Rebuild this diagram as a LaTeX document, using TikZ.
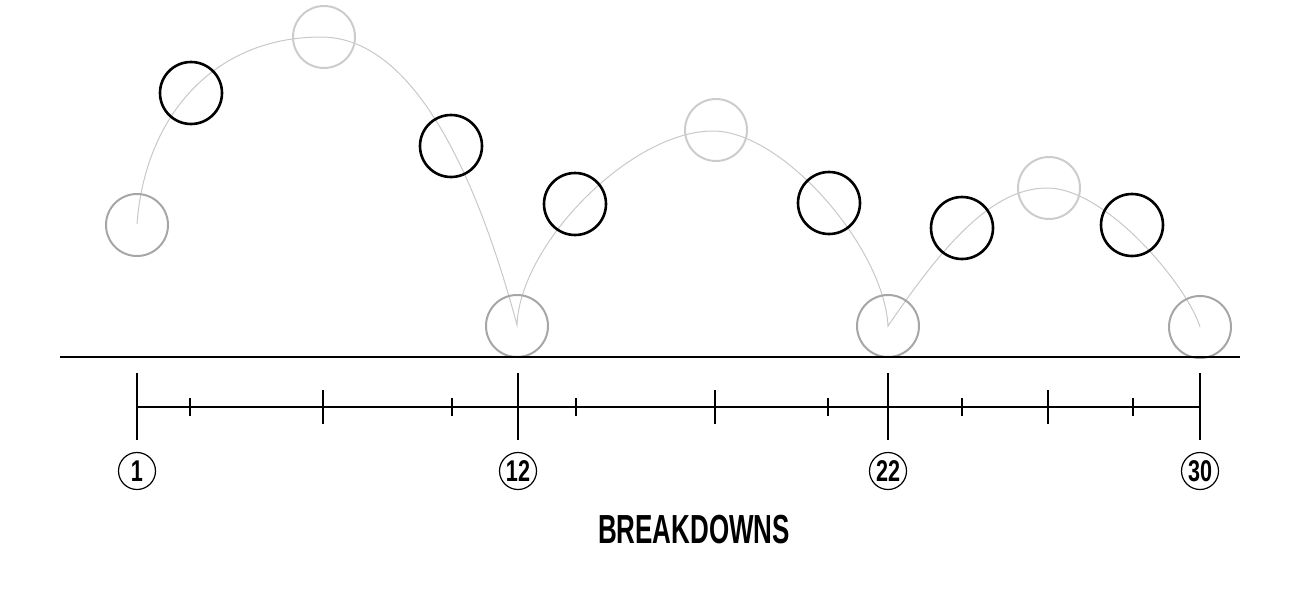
\documentclass[tikz,border=0pt]{standalone}
\usepackage{fontspec}
\setmainfont{Liberation Sans}
\definecolor{ltc}{HTML}{CCCCCC}
\definecolor{mdc}{HTML}{A6A6A6}
\definecolor{crv}{HTML}{C8C8C8}
\begin{document}
\begin{tikzpicture}[x=0.5pt,y=-0.5pt,
  keyc/.style={circle,draw=black,line width=1.3pt,minimum size=31pt,inner sep=0pt},
  topc/.style={circle,draw=ltc,line width=1pt,minimum size=31pt,inner sep=0pt},
  endc/.style={circle,draw=mdc,line width=1pt,minimum size=31pt,inner sep=0pt},
  arcpath/.style={draw=crv,line width=0.5pt},
  ground/.style={draw=black,line width=1.3pt},
  tline/.style={draw=black,line width=1pt},
  numc/.style={circle,draw=black,line width=0.6pt,minimum size=18.5pt,inner sep=0pt,
    font=\fontsize{15}{16}\selectfont\bfseries},
  titlef/.style={font=\fontsize{20.3}{22}\selectfont\bfseries,inner sep=0pt}]
\path[use as bounding box] (0,0) rectangle (1300,600);

% arc key points
\coordinate (s1) at (137,224);
\coordinate (p1) at (321,37);
\coordinate (b1) at (517,325);
\coordinate (p2) at (713,131);
\coordinate (b2) at (888,326);
\coordinate (p3) at (1047,188);
\coordinate (b3) at (1200,327);

\path[arcpath] (s1) .. controls (145,116) and (214,37) .. (p1)
  .. controls (420,37) and (482,195) .. (b1)
  .. controls (520,244) and (631,131) .. (p2)
  .. controls (783,131) and (884,248) .. (b2)
  .. controls (940,250) and (990,188) .. (p3)
  .. controls (1107,188) and (1188,287) .. (b3);

% ball positions
\node[endc] (c1) at (137,225) {};
\node[keyc] (c2) at (191,93) {};
\node[topc] (c3) at (324,37) {};
\node[keyc] (c4) at (451,146) {};
\node[endc] (c5) at (517,326) {};
\node[keyc] (c6) at (575,204) {};
\node[topc] (c7) at (716,130) {};
\node[keyc] (c8) at (829,203) {};
\node[endc] (c9) at (888,326) {};
\node[keyc] (c10) at (962,228) {};
\node[topc] (c11) at (1049,188) {};
\node[keyc] (c12) at (1132,225) {};
\node[endc] (c13) at (1200,327) {};

% ground
\coordinate (gl) at (60,357);
\coordinate (gr) at (1240,357);
\path[ground] (gl) -- (gr);

% timeline
\coordinate (tl) at (137,407);
\coordinate (tr) at (1200,407);
\path[tline] (tl) -- (tr);
\foreach \x in {137,518,888,1200} \path[tline] (\x,373) -- (\x,440);
\foreach \x in {323,715,1048} \path[tline] (\x,390) -- (\x,424);
\foreach \x in {190,452,576,828,962,1133} \path[tline] (\x,398) -- (\x,416);

% frame numbers
\node[numc] (n1) at (137,471) {\scalebox{0.72}[1]{1}};
\node[numc] (n12) at (518,471) {\scalebox{0.72}[1]{12}};
\node[numc] (n22) at (888,471) {\scalebox{0.72}[1]{22}};
\node[numc] (n30) at (1200,471) {\scalebox{0.72}[1]{30}};

% title
\node[titlef,anchor=base] (title) at (694,543) {\scalebox{0.64}[1]{BREAKDOWNS}};
\end{tikzpicture}
\end{document}
